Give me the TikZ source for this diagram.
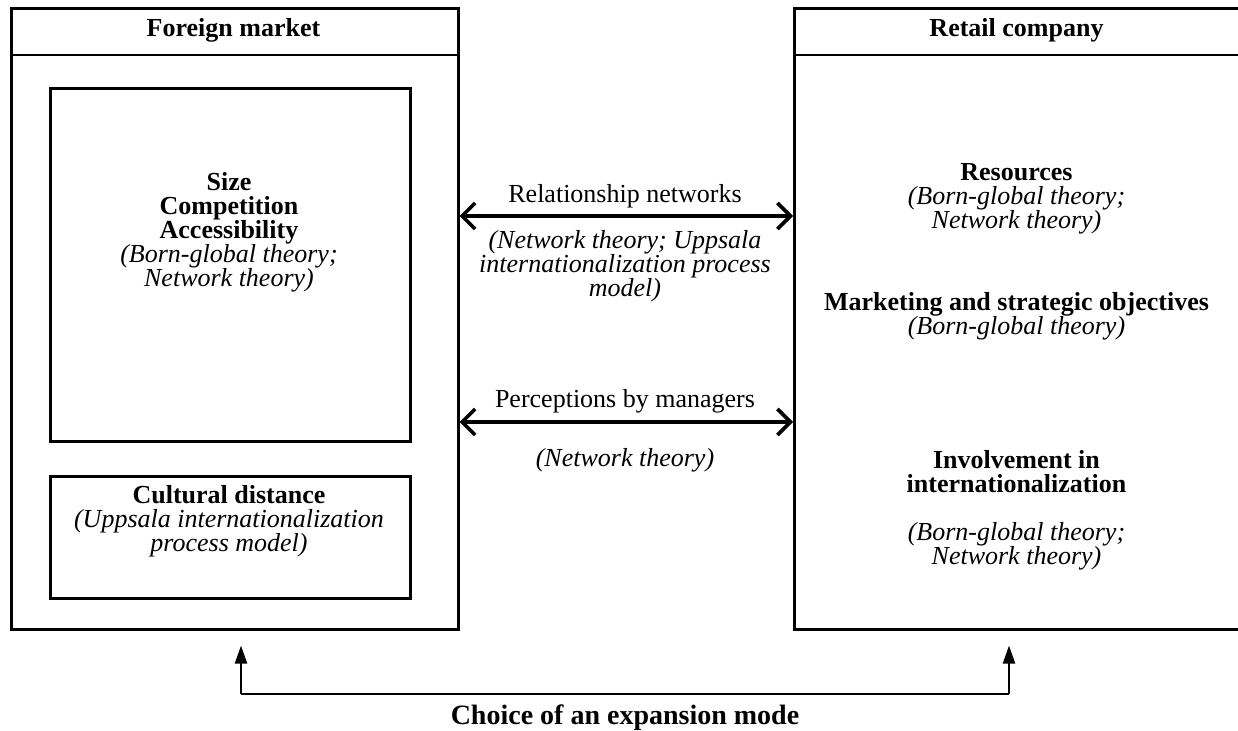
\documentclass[tikz,border=0pt]{standalone}
\usepackage{fontspec}
\setmainfont{Liberation Serif}
\usetikzlibrary{positioning}
\usetikzlibrary{arrows.meta}
\newcommand{\widthframe}{223.5pt}
\newcommand{\heightframe}{310.5pt}
\newcommand{\widthinner}{180pt}
\newcommand{\heighttitle}{24pt}
\tikzset{
    common/.style={anchor=north west, draw, rectangle, line width=1.3pt, inner sep=0pt},
    frame/.style={common, minimum width=\widthframe, minimum height=\heightframe},
    inner/.style={common, minimum width=\widthinner},
    txt/.style={align=center, inner sep=0pt, font=\fontsize{13}{12}\selectfont},
    head/.style={txt, font=\fontsize{13}{12}\selectfont\bfseries},
    link/.style={line width=1.8pt, {Straight Barb[length=6.5pt,width=13pt]}-{Straight Barb[length=6.5pt,width=13pt]}},
    choice/.style={line width=1.1pt, -{Triangle[length=9pt,width=6pt]}, shorten >=7.5pt},
}

\begin{document}
\begin{tikzpicture}[x=0.5pt, y=-0.5pt]
    \useasboundingbox (0,0) rectangle (1238,731);

    \node[frame] (FM) at (10,7) {};
    \node[frame] (RC) at (793,7) {};
    \draw[line width=1.3pt] ([yshift=-\heighttitle]FM.north west) -- ([yshift=-\heighttitle]FM.north east);
    \draw[line width=1.3pt] ([yshift=-\heighttitle]RC.north west) -- ([yshift=-\heighttitle]RC.north east);
    \node[head] (FM-title) at (233.5,30) {Foreign market};
    \node[head] (RC-title) at (1016.5,30) {Retail company};

    \node[inner, minimum height=176.5pt] (market) at (49,87) {};
    \node[txt] (market-text) at (229,232) {\textbf{Size}\\\textbf{Competition}\\\textbf{Accessibility}\\
        \textit{(Born-global theory;}\\\textit{Network theory)}};
    \node[inner, minimum height=61pt] (culture) at (49,475) {};
    \node[txt] (culture-text) at (229,521) {\textbf{Cultural distance}\\
        \textit{(Uppsala internationalization}\\\textit{process model)}};

    \node[txt] (resources) at (1016.5,199) {\textbf{Resources}\\\textit{(Born-global theory;}\\\textit{Network theory)}};
    \node[txt] (objectives) at (1016.5,316) {\textbf{Marketing and strategic objectives}\\\textit{(Born-global theory)}};
    \node[txt] (involvement) at (1016.5,510) {\textbf{Involvement in}\\\textbf{internationalization}\\[12pt]
        \textit{(Born-global theory;}\\\textit{Network theory)}};

    \coordinate (relnet) at (625,216);
    \coordinate (percept) at (625,422);
    \draw[link] (FM.east |- relnet) -- (RC.west |- relnet);
    \draw[link] (FM.east |- percept) -- (RC.west |- percept);
    \node[txt, above=4pt of relnet] (relnet-label) {Relationship networks};
    \node[txt, below=7pt of relnet] (relnet-theory) {\textit{(Network theory; Uppsala}\\\textit{internationalization process}\\\textit{model)}};
    \node[txt, above=4pt of percept] (percept-label) {Perceptions by managers};
    \node[txt, below=13pt of percept] (percept-theory) {\textit{(Network theory)}};

    \coordinate (choice-left) at (241,694);
    \coordinate (choice-right) at (1009,694);
    \draw[line width=1.1pt] (choice-left) -- node[head, font=\fontsize{14}{12}\selectfont\bfseries, below=5pt] (choice-text) {Choice of an expansion mode} (choice-right);
    \draw[choice] (choice-left) -- (choice-left |- FM.south);
    \draw[choice] (choice-right) -- (choice-right |- RC.south);
\end{tikzpicture}
\end{document}
